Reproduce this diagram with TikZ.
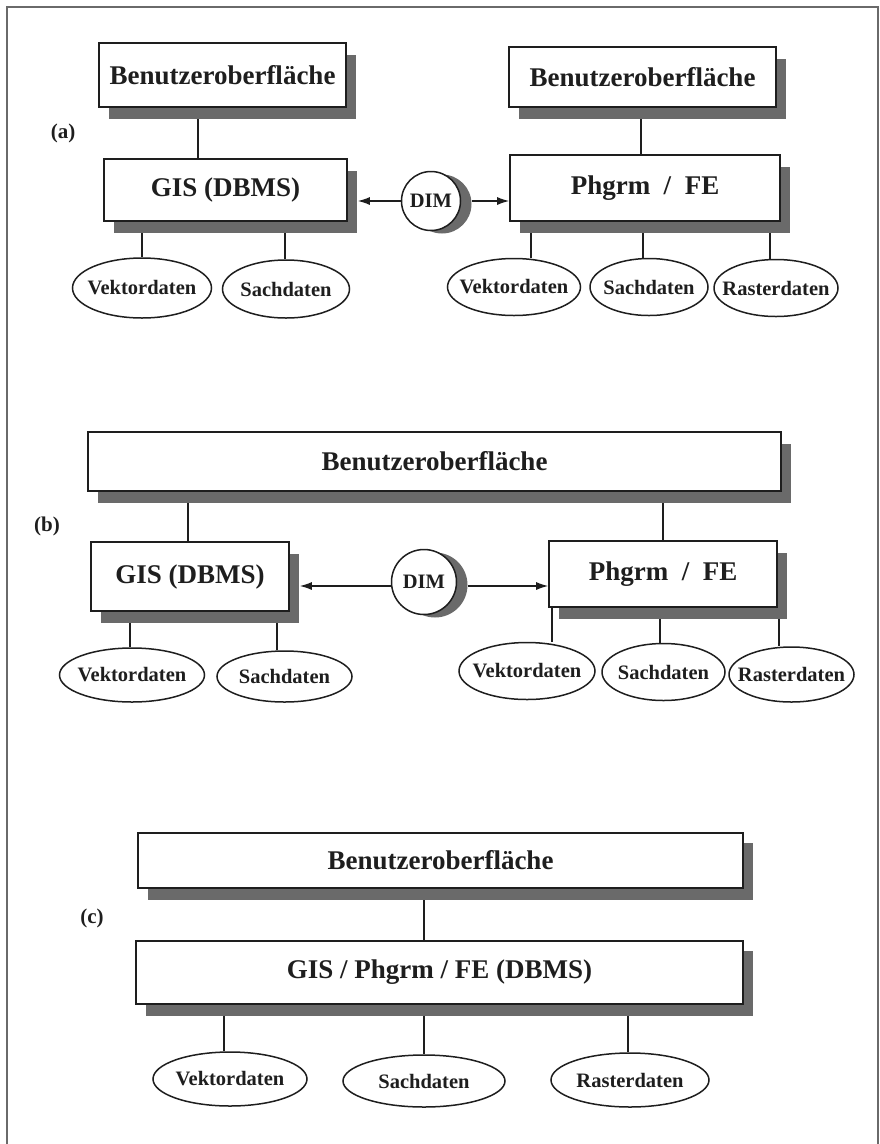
\documentclass[tikz,border=0pt]{standalone}
\usepackage{fontspec}
\setmainfont{Liberation Serif}
\usetikzlibrary{shadows,arrows.meta,calc,backgrounds,shapes.geometric}
\definecolor{ink}{HTML}{1E1E1E}
\definecolor{shd}{HTML}{6A6A6A}
\definecolor{framec}{HTML}{6A6A6A}
\begin{document}
\begin{tikzpicture}[x=1pt,y=-1pt,
  box/.style={draw=ink, line width=1.6pt, fill=white, inner sep=0pt, text=ink,
    font=\fontsize{27}{30}\selectfont\bfseries,
    drop shadow={shadow xshift=10pt, shadow yshift=-12pt, fill=shd, opacity=1}},
  dat/.style={ellipse, draw=ink, line width=1.5pt, fill=white, inner sep=0pt},
  dattext/.style={text=ink, inner sep=0pt, font=\fontsize{20.5}{22}\selectfont\bfseries},
  dimnode/.style={circle, draw=ink, line width=1.5pt, fill=white, inner sep=0pt, text=ink,
    font=\fontsize{20.5}{22}\selectfont\bfseries,
    drop shadow={shadow xshift=11pt, shadow yshift=-3pt, fill=shd, opacity=1}},
  lab/.style={text=ink, inner sep=0pt, font=\fontsize{21}{23}\selectfont\bfseries},
  conn/.style={draw=ink, line width=1.3pt},
  arr/.style={draw=ink, line width=1.3pt, -{Latex[length=12pt,width=8pt]}},
  framel/.style={draw=framec, line width=1.2pt}]
\useasboundingbox (0,0) rectangle (880,1144);

% frame
\coordinate (f1) at (7,1144);
\coordinate (f2) at (7,7);
\coordinate (f3) at (878,7);
\coordinate (f4) at (878,1144);
\draw[framel] (f1) -- (f2) -- (f3) -- (f4);

% ---------------- (a)
\node[lab] (la) at (63,133) {(a)};
\node[box, minimum width=247pt, minimum height=64pt] (ua1) at (222.5,75) {Benutzeroberfläche};
\node[box, minimum width=267pt, minimum height=60pt] (ua2) at (642.5,77) {Benutzeroberfläche};
\node[box, minimum width=243pt, minimum height=62pt] (gisA) at (225.5,190) {GIS (DBMS)};
\node[box, minimum width=270pt, minimum height=66pt] (phgA) at (645,188) {Phgrm\hspace{0.5em}/\hspace{0.5em}FE};
\node[dimnode, minimum size=59pt] (dimA) at (431,201) {DIM};
\node[dat, minimum width=139pt, minimum height=60pt, label={[dattext]center:Vektordaten}] (vA1) at (142,288) {};
\node[dat, minimum width=127pt, minimum height=58pt, label={[dattext]center:Sachdaten}] (sA1) at (286,289) {};
\node[dat, minimum width=133pt, minimum height=57pt, label={[dattext]center:Vektordaten}] (vA2) at (514,287) {};
\node[dat, minimum width=118pt, minimum height=57pt, label={[dattext]center:Sachdaten}] (sA2) at (649,287) {};
\node[dat, minimum width=124pt, minimum height=57pt, label={[dattext]center:Rasterdaten}] (rA2) at (776,288) {};

\draw[arr] (dimA.west) -- ($(gisA.east |- dimA.west)+(10,0)$);
\draw[arr] ($(dimA.east)+(11,0)$) -- (phgA.west |- dimA.east);

% ---------------- (b)
\node[lab] (lb) at (47,526) {(b)};
\node[box, minimum width=693pt, minimum height=59pt] (ub) at (434.5,461.5) {Benutzeroberfläche};
\node[box, minimum width=198pt, minimum height=69pt] (gisB) at (190,576.5) {GIS (DBMS)};
\node[box, minimum width=228pt, minimum height=66pt] (phgB) at (663,574) {Phgrm\hspace{0.5em}/\hspace{0.5em}FE};
\node[dimnode, minimum size=65pt] (dimB) at (424,582) {DIM};
\node[dat, minimum width=145pt, minimum height=54pt, label={[dattext]center:Vektordaten}] (vB1) at (132,675) {};
\node[dat, minimum width=135pt, minimum height=51pt, label={[dattext]center:Sachdaten}] (sB1) at (284.5,676.5) {};
\node[dat, minimum width=136pt, minimum height=57pt, label={[dattext]center:Vektordaten}] (vB2) at (527,671) {};
\node[dat, minimum width=123pt, minimum height=57pt, label={[dattext]center:Sachdaten}] (sB2) at (663.5,672) {};
\node[dat, minimum width=125pt, minimum height=55pt, label={[dattext]center:Rasterdaten}] (rB2) at (791.5,674.5) {};

\draw[arr] (dimB.west |- 0,586) -- ($(gisB.east |- 0,586)+(10,0)$);
\draw[arr] ($(dimB.east |- 0,586)+(11,0)$) -- (phgB.west |- 0,586);

% ---------------- (c)
\node[lab] (lc) at (92,918) {(c)};
\node[box, minimum width=605pt, minimum height=55pt,
  drop shadow={shadow xshift=10pt, shadow yshift=-10pt, fill=shd, opacity=1}] (uc) at (440.5,860.5) {Benutzeroberfläche};
\node[box, minimum width=607pt, minimum height=63pt,
  drop shadow={shadow xshift=10pt, shadow yshift=-10pt, fill=shd, opacity=1}] (gc) at (439.5,972.5) {GIS / Phgrm / FE (DBMS)};
\node[dat, minimum width=154pt, minimum height=54pt, label={[dattext]center:Vektordaten}] (vC) at (230,1079) {};
\node[dat, minimum width=162pt, minimum height=52pt, label={[dattext]center:Sachdaten}] (sC) at (424,1081) {};
\node[dat, minimum width=158pt, minimum height=54pt, label={[dattext]center:Rasterdaten}] (rC) at (630,1080) {};

% connectors behind the shadows
\begin{scope}[on background layer]
  \draw[conn] (198,0 |- ua1.south) -- (198,0 |- gisA.north);
  \draw[conn] (641,0 |- ua2.south) -- (641,0 |- phgA.north);
  \draw[conn] (142,0 |- gisA.south) -- (142,0 |- vA1.north);
  \draw[conn] (285,0 |- gisA.south) -- (285,0 |- sA1.north);
  \draw[conn] (531,0 |- phgA.south) -- (531,0 |- vA2.north);
  \draw[conn] (643,0 |- phgA.south) -- (643,0 |- sA2.north);
  \draw[conn] (770,0 |- phgA.south) -- (770,0 |- rA2.north);

  \draw[conn] (188,0 |- ub.south) -- (188,0 |- gisB.north);
  \draw[conn] (663,0 |- ub.south) -- (663,0 |- phgB.north);
  \draw[conn] (130,0 |- gisB.south) -- (130,0 |- vB1.north);
  \draw[conn] (277,0 |- gisB.south) -- (277,0 |- sB1.north);
  \draw[conn] (552,0 |- phgB.south) -- (552,0 |- vB2.north);
  \draw[conn] (660,0 |- phgB.south) -- (660,0 |- sB2.north);
  \draw[conn] (779,0 |- phgB.south) -- (779,0 |- rB2.north);

  \draw[conn] (424,0 |- uc.south) -- (424,0 |- gc.north);
  \draw[conn] (224,0 |- gc.south) -- (224,0 |- vC.north);
  \draw[conn] (424,0 |- gc.south) -- (424,0 |- sC.north);
  \draw[conn] (628,0 |- gc.south) -- (628,0 |- rC.north);
\end{scope}
\end{tikzpicture}
\end{document}
